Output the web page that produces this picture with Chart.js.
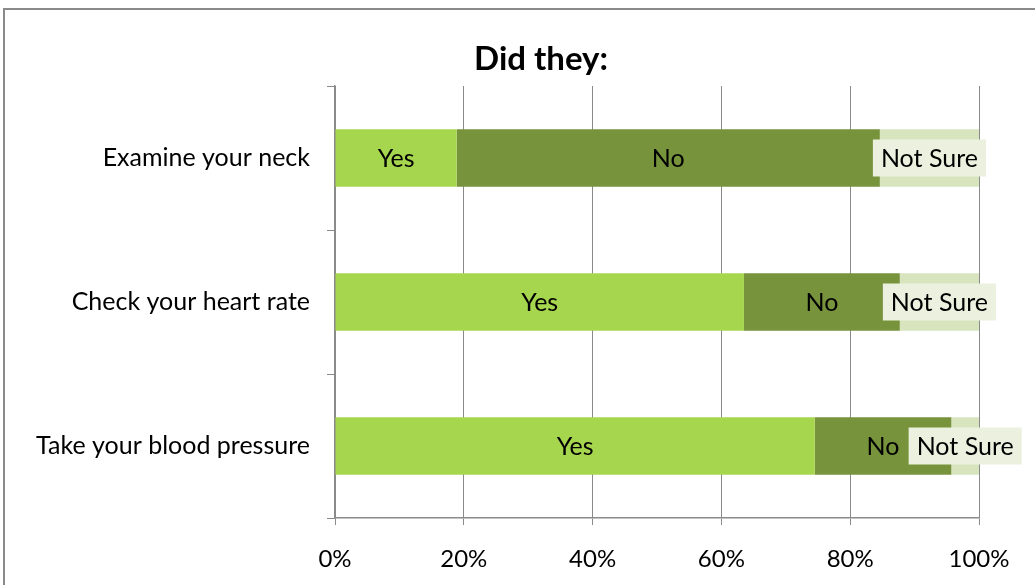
<!DOCTYPE html>
<html>
<head>
<meta charset="utf-8">
<script src="https://cdn.jsdelivr.net/npm/chart.js@4.4.0/dist/chart.umd.min.js"></script>
<style>
  html, body { margin: 0; padding: 0; background: #fff; overflow: hidden; }
  #wrap { position: relative; width: 1035px; height: 585px; }
  #frame { position: absolute; left: 3px; top: 8px; width: 1100px; height: 700px; border: 2px solid #8a8a8a; box-sizing: border-box; }
  canvas { position: absolute; left: 0; top: 0; }
</style>
</head>
<body>
<div id="wrap">
  <div id="frame"></div>
  <canvas id="c" width="1035" height="585"></canvas>
</div>
<script>
const categories = ["Examine your neck", "Check your heart rate", "Take your blood pressure"];
const seriesNames = ["Yes", "No", "Not Sure"];
const yesValues = [18.9, 63.5, 74.5];
const noValues = [65.7, 24.2, 21.2];
const notSureValues = [15.4, 12.3, 4.3];
const tickValues = [0, 20, 40, 60, 80, 100];
const titleText = "Did they:";

const FONT = "Lato, 'Open Sans', sans-serif";
const colors = ["#a6d64e", "#77933c", "#d7e4bd"];

const titlePlugin = {
  id: 'customTitle',
  afterDraw(chart) {
    const ctx = chart.ctx;
    ctx.save();
    ctx.font = "bold 33px " + FONT;
    ctx.textAlign = 'center';
    ctx.textBaseline = 'middle';
    ctx.fillStyle = '#000';
    ctx.fillText(titleText, 541, 59);
    ctx.restore();
  }
};

const labelPlugin = {
  id: 'segLabels',
  afterDatasetsDraw(chart) {
    const ctx = chart.ctx;
    ctx.save();
    ctx.font = "25px " + FONT;
    ctx.textAlign = 'center';
    ctx.textBaseline = 'middle';
    chart.data.datasets.forEach((ds, di) => {
      const meta = chart.getDatasetMeta(di);
      meta.data.forEach((el) => {
        const cx = (el.x + el.base) / 2;
        const cy = el.y;
        const txt = ds.label;
        if (di === 2) {
          const w = ctx.measureText(txt).width;
          ctx.fillStyle = "#ebf1de";
          ctx.fillRect(cx - w / 2 - 8, cy - 18.5, w + 16, 37);
        }
        ctx.fillStyle = "#000";
        ctx.fillText(txt, cx, cy + 1);
      });
    });
    ctx.restore();
  }
};

new Chart(document.getElementById('c'), {
  type: 'bar',
  data: {
    labels: categories,
    datasets: [
      { label: seriesNames[0], data: yesValues, backgroundColor: colors[0] },
      { label: seriesNames[1], data: noValues, backgroundColor: colors[1] },
      { label: seriesNames[2], data: notSureValues, backgroundColor: colors[2] }
    ]
  },
  options: {
    indexAxis: 'y',
    responsive: false,
    animation: false,
    devicePixelRatio: 1,
    categoryPercentage: 1,
    barPercentage: 0.4,
    layout: { padding: { left: 0, right: 56, top: 86, bottom: 0 } },
    plugins: {
      legend: { display: false },
      tooltip: { enabled: false },
      title: { display: false }
    },
    scales: {
      x: {
        stacked: true,
        min: 0,
        max: 100,
        afterBuildTicks(scale) { scale.ticks = tickValues.map(v => ({ value: v })); },
        afterFit(scale) { scale.height = 67; },
        ticks: {
          color: '#000',
          font: { family: FONT, size: 24 },
          padding: 20,
          maxRotation: 0,
          callback: (v) => v + '%'
        },
        grid: { color: '#8a8a8a', lineWidth: 1, tickLength: 7, drawTicks: true },
        border: { color: '#8a8a8a', width: 1.5 }
      },
      y: {
        stacked: true,
        afterFit(scale) { scale.width = 335; },
        ticks: {
          color: '#000',
          font: { family: FONT, size: 25 },
          padding: 17
        },
        grid: { drawOnChartArea: false, drawTicks: true, tickLength: 8, color: '#8a8a8a', offset: true },
        border: { color: '#8a8a8a', width: 1.5 }
      }
    }
  },
  plugins: [labelPlugin, titlePlugin]
});
</script>
</body>
</html>
